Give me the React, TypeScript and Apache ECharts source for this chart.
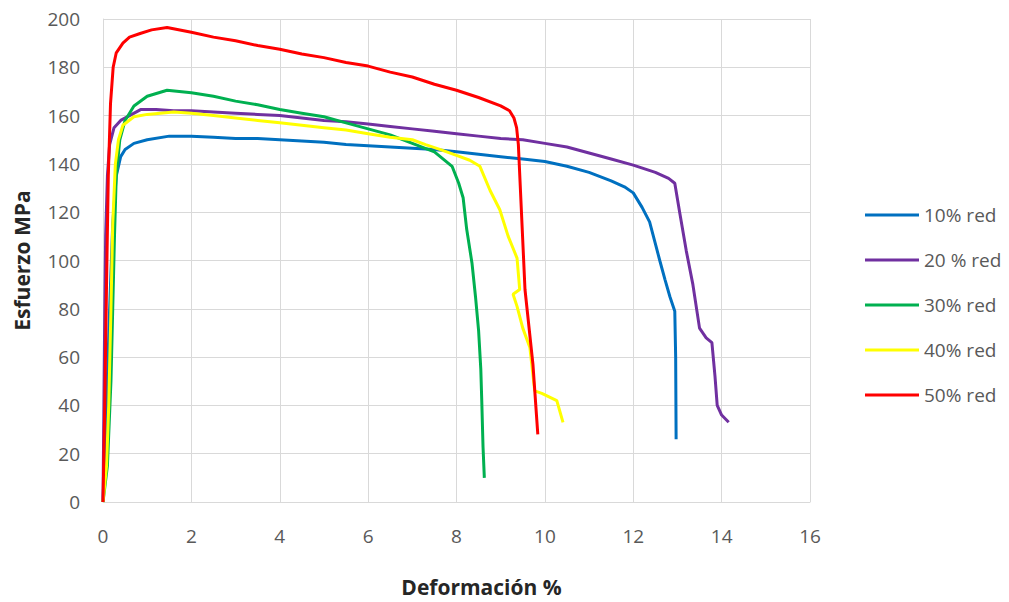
import React, { useEffect, useRef } from "react";
import * as echarts from "echarts";

const seriesNames = ["10% red", "20 % red", "30% red", "40% red", "50% red"];
const seriesColors = ["#0070C0", "#7030A0", "#00B050", "#FFFF00", "#FF0000"];

const red10: number[][] = [
  [0, 0], [0.08, 40], [0.15, 80], [0.22, 115], [0.3, 135], [0.4, 143], [0.5, 146], [0.7, 148.5],
  [1, 150], [1.5, 151.5], [2, 151.5], [2.5, 151], [3, 150.5], [3.5, 150.5], [4, 150], [4.5, 149.5],
  [5, 149], [5.5, 148], [6, 147.5], [6.5, 147], [7, 146.5], [7.5, 146], [8, 145], [8.5, 144],
  [9, 143], [9.5, 142], [10, 141], [10.5, 139], [11, 136.5], [11.5, 133], [11.8, 130.5], [12.0, 128],
  [12.2, 122], [12.37, 116], [12.5, 107], [12.6, 100], [12.72, 92], [12.83, 85], [12.94, 79],
  [12.96, 60], [12.97, 26],
];

const red20: number[][] = [
  [0, 0], [0.02, 40], [0.04, 80], [0.06, 110], [0.1, 135], [0.15, 148], [0.25, 155], [0.4, 158],
  [0.6, 160], [0.85, 162.5], [1.2, 162.5], [1.6, 162], [2, 162], [2.5, 161.5], [3, 161], [3.5, 160.5],
  [4, 160], [4.5, 159], [5, 158], [5.5, 157.5], [6, 156.5], [6.5, 155.5], [7, 154.5], [7.5, 153.5],
  [8, 152.5], [8.5, 151.5], [9, 150.5], [9.5, 150], [10, 148.5], [10.5, 147], [11, 144.5], [11.5, 142],
  [12, 139.5], [12.5, 136.5], [12.8, 134], [12.94, 132], [13.05, 120], [13.2, 104], [13.35, 90],
  [13.5, 72], [13.65, 68], [13.78, 66], [13.85, 52], [13.9, 40], [14.0, 36], [14.16, 33],
];

const red30: number[][] = [
  [0, 0], [0.1, 15], [0.18, 50], [0.22, 80], [0.26, 110], [0.3, 135], [0.38, 150], [0.5, 158],
  [0.7, 164], [1, 168], [1.45, 170.5], [2, 169.5], [2.5, 168], [3, 166], [3.5, 164.5], [4, 162.5],
  [4.5, 161], [5, 159.5], [5.5, 157], [6, 154.5], [6.5, 152], [7, 148.5], [7.5, 145], [7.9, 139],
  [8.05, 132], [8.15, 126], [8.23, 113], [8.35, 99], [8.43, 85], [8.5, 71], [8.55, 55], [8.57, 43],
  [8.6, 23], [8.63, 10],
];

const red40: number[][] = [
  [0, 0], [0.08, 15], [0.13, 40], [0.18, 80], [0.22, 115], [0.28, 140], [0.35, 150], [0.45, 156],
  [0.7, 159.5], [1, 160.5], [1.6, 161.5], [2, 161], [2.5, 160], [3, 159], [3.5, 158], [4, 157],
  [4.5, 156], [5, 155], [5.5, 154], [6, 152.5], [6.5, 151], [7, 150], [7.3, 148], [7.62, 146],
  [8, 143.5], [8.3, 141.5], [8.53, 139], [8.76, 129], [8.98, 121], [9.17, 110], [9.37, 101],
  [9.43, 88], [9.28, 86], [9.37, 81], [9.5, 72], [9.66, 64], [9.77, 46], [9.93, 45], [10.27, 42],
  [10.41, 33],
];

const red50: number[][] = [
  [0, 0], [0.04, 40], [0.08, 90], [0.12, 135], [0.17, 165], [0.23, 180], [0.3, 186], [0.45, 190],
  [0.6, 192.5], [0.84, 194], [1.1, 195.5], [1.45, 196.5], [2, 194.5], [2.5, 192.5], [3, 191],
  [3.5, 189], [4, 187.5], [4.5, 185.5], [5, 184], [5.5, 182], [6, 180.5], [6.5, 178], [7, 176],
  [7.5, 173], [8, 170.5], [8.5, 167.5], [9, 164], [9.2, 162], [9.3, 159], [9.36, 155], [9.4, 148],
  [9.55, 88], [9.73, 57], [9.84, 28],
];

const allData = [red10, red20, red30, red40, red50];

const FONT = "'Open Sans', 'Liberation Sans', sans-serif";

export default function App() {
  const ref = useRef<HTMLDivElement>(null);
  useEffect(() => {
    if (!ref.current) return;
    const chart = echarts.init(ref.current, undefined, { renderer: "svg" });
    chart.setOption({
      animation: false,
      backgroundColor: "#ffffff",
      grid: { left: 103, right: 199, top: 19, bottom: 100 },
      legend: {
        orient: "vertical",
        left: 860,
        top: 198,
        itemWidth: 54,
        itemHeight: 3,
        itemGap: 21,
        icon: "rect",
        textStyle: { color: "#595959", fontSize: 19, fontFamily: FONT, lineHeight: 24 },
        data: seriesNames,
      },
      xAxis: {
        type: "value",
        min: 0,
        max: 16,
        interval: 2,
        name: "Deformación %",
        nameLocation: "middle",
        nameGap: 74,
        nameTextStyle: {
          color: "#262626",
          fontSize: 21,
          fontWeight: "bold",
          fontFamily: FONT,
          padding: [0, 0, 0, 50],
        },
        axisLine: { show: true, lineStyle: { color: "#d9d9d9", width: 1 } },
        axisTick: { show: false },
        axisLabel: { color: "#595959", fontSize: 19, fontFamily: FONT, margin: 24 },
        splitLine: { show: true, lineStyle: { color: "#d9d9d9", width: 1 } },
      },
      yAxis: {
        type: "value",
        min: 0,
        max: 200,
        interval: 20,
        name: "Esfuerzo MPa",
        nameLocation: "middle",
        nameGap: 71,
        nameTextStyle: {
          color: "#262626",
          fontSize: 21,
          fontWeight: "bold",
          fontFamily: FONT,
        },
        axisLine: { show: true, lineStyle: { color: "#d9d9d9", width: 1 } },
        axisTick: { show: false },
        axisLabel: { color: "#595959", fontSize: 19, fontFamily: FONT, margin: 23 },
        splitLine: { show: true, lineStyle: { color: "#d9d9d9", width: 1 } },
      },
      series: seriesNames.map((name, i) => ({
        name,
        type: "line",
        data: allData[i],
        showSymbol: false,
        symbol: "none",
        color: seriesColors[i],
        lineStyle: { color: seriesColors[i], width: 3 },
        z: 2 + i,
      })),
    });
    return () => chart.dispose();
  }, []);
  return (
    <div
      ref={ref}
      style={{ position: "absolute", left: 0, top: 0, width: 1009, height: 602 }}
    />
  );
}
